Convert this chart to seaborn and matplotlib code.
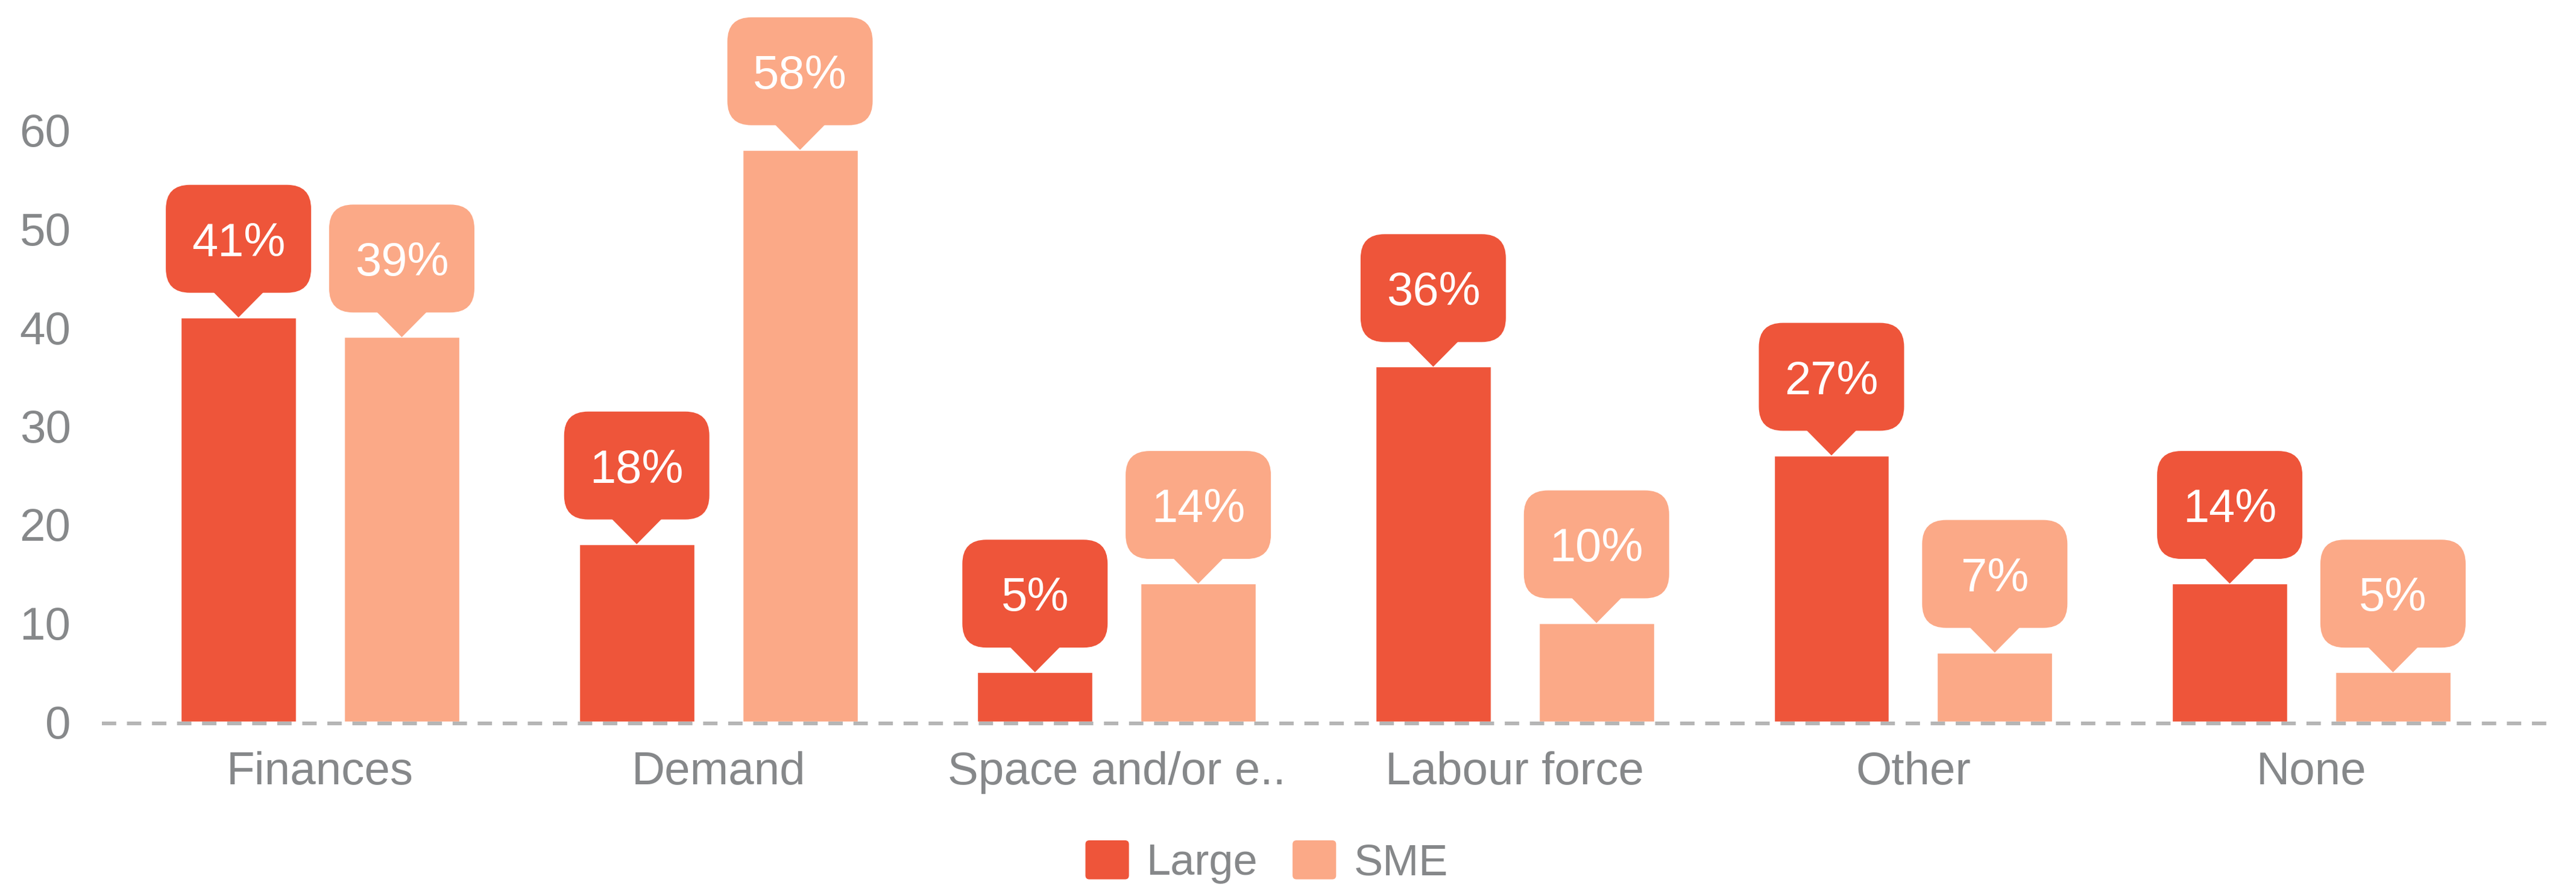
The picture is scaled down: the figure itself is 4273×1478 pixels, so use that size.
import numpy as np
import pandas as pd
import matplotlib
matplotlib.use("Agg")
import matplotlib.pyplot as plt
import seaborn as sns
from matplotlib.patches import FancyBboxPatch, Polygon
from matplotlib.legend_handler import HandlerPatch
from matplotlib.transforms import IdentityTransform

# ---- data -------------------------------------------------------------
categories = ["Finances", "Demand", "Space and/or e..", "Labour force", "Other", "None"]
large_values = [41, 18, 5, 36, 27, 14]
sme_values = [39, 58, 14, 10, 7, 5]
series_names = ["Large", "SME"]
y_ticks = [0, 10, 20, 30, 40, 50, 60]

colors = {"Large": "#EE553A", "SME": "#FBA987"}
text_grey = "#86888A"

df = pd.DataFrame({
    "category": categories * 2,
    "series": ["Large"] * len(categories) + ["SME"] * len(categories),
    "value": large_values + sme_values,
})

# ---- figure -----------------------------------------------------------
W, H, DPI = 4273, 1478, 100
PX_PER_UNIT = 16.35  # vertical pixels per percentage point
sns.set_style("white")
plt.rcParams["font.family"] = ["Liberation Sans", "DejaVu Sans"]

fig = plt.figure(figsize=(W / DPI, H / DPI), dpi=DPI)
ax = fig.add_axes([169 / W, 281 / H, (4237 - 169) / W, 73 * PX_PER_UNIT / H])

sns.barplot(data=df, x="category", y="value", hue="series",
            hue_order=series_names, order=categories, palette=colors,
            width=0.82, gap=0.295, saturation=1, legend=False,
            errorbar=None, ax=ax, zorder=2)

ax.set_xlim(-0.548, 5.610)
ax.set_ylim(0, 73)
ax.set_yticks(y_ticks)
ax.set_yticklabels([str(t) for t in y_ticks])
ax.set_xlabel("")
ax.set_ylabel("")
for s in ax.spines.values():
    s.set_visible(False)
ax.tick_params(axis="both", length=0, labelsize=55, labelcolor=text_grey)
ax.tick_params(axis="y", pad=37)
ax.tick_params(axis="x", pad=35)

# dashed baseline just under the bars
ax.axhline(-3 / PX_PER_UNIT, color="#B5B5B5", lw=4.4, dashes=(3.9, 2.9),
           zorder=1, clip_on=False)

# ---- value callouts (speech bubbles above each bar) -------------------
box_w, box_h, tip_h, tip_w, radius = 241, 179, 41, 83, 40
fig.canvas.draw()
values_by_series = {"Large": large_values, "SME": sme_values}
for name, container in zip(series_names, ax.containers):
    for bar, val in zip(container.patches, values_by_series[name]):
        cx = bar.get_x() + bar.get_width() / 2
        tx, ty = ax.transData.transform((cx, bar.get_height()))
        col = colors[name]
        base = ty + tip_h
        box = FancyBboxPatch((tx - box_w / 2 + radius, base + radius),
                             box_w - 2 * radius, box_h - 2 * radius,
                             boxstyle=f"round,pad={radius},rounding_size={radius}",
                             transform=IdentityTransform(), facecolor=col,
                             edgecolor="none", clip_on=False, zorder=3)
        ax.add_artist(box)
        tip = Polygon([(tx - tip_w / 2, base + 1), (tx + tip_w / 2, base + 1), (tx, ty)],
                      closed=True, transform=IdentityTransform(), facecolor=col,
                      edgecolor="none", clip_on=False, zorder=3)
        ax.add_artist(tip)
        ax.text(tx, base + box_h / 2, f"{val}%", transform=IdentityTransform(),
                ha="center", va="center_baseline", fontsize=56, color="white",
                zorder=4, clip_on=False)


# ---- legend with slightly rounded swatches ----------------------------
class RoundedSwatch(HandlerPatch):
    def create_artists(self, legend, orig_handle, xdescent, ydescent,
                       width, height, fontsize, trans):
        r = 0.1 * height
        p = FancyBboxPatch((-xdescent + r, -ydescent + r), width - 2 * r, height - 2 * r,
                           boxstyle=f"round,pad={r},rounding_size={r}",
                           facecolor=orig_handle.get_facecolor(), edgecolor="none",
                           transform=trans)
        return [p]


handles = [plt.Rectangle((0, 0), 1, 1, facecolor=colors[n], edgecolor="none")
           for n in series_names]
leg = fig.legend(handles, series_names, loc="center",
                 bbox_to_anchor=(0.4917, 48 / H), ncol=2, frameon=False,
                 fontsize=52, handlelength=1.0, handleheight=1.0,
                 handletextpad=0.4, columnspacing=0.8, borderpad=0,
                 handler_map={plt.Rectangle: RoundedSwatch()})
for t in leg.get_texts():
    t.set_color(text_grey)

fig.savefig("out.png", dpi=DPI)
